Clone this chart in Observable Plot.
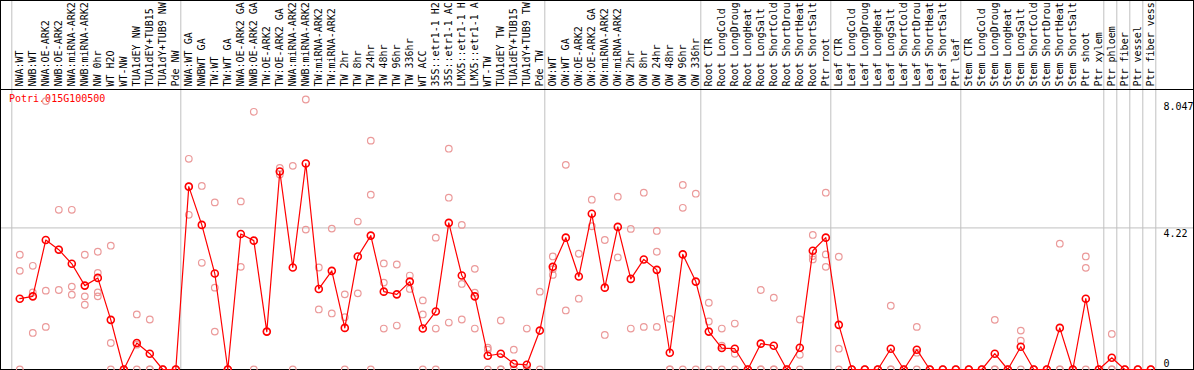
<!DOCTYPE html>
<html><head><meta charset="utf-8">
<script src="https://cdn.jsdelivr.net/npm/d3@7"></script>
<script src="https://cdn.jsdelivr.net/npm/@observablehq/plot@0.6"></script>
<style>html,body{margin:0;padding:0;background:#fff;overflow:hidden}</style>
</head><body><div id="chart"></div>
<script>
const gene = "Potri.015G100500";

// sample labels as they appear (long names are cut at the top of the chart)
const samples = [
  "NWA:WT","NWB:WT","NWA:OE-ARK2","NWB:OE-ARK2","NWA:miRNA-ARK2","NWB:miRNA-ARK2","NW 0hr","WT H2O","WT-NW","TUA1dEY NW","TUA1dEY+TUB15","TUA1dY+TUB9 NW","Pde NW",
  "NWA:WT GA","NWBWT GA","TW:WT","TW:WT GA","NWA:OE-ARK2 GA","NWB:OE-ARK2 GA","TW:OE-ARK2","TW:OE-ARK2 GA","NWA:miRNA-ARK2","NWB:miRNA-ARK2","TW:miRNA-ARK2","TW:miRNA-ARK2",
  "TW 2hr","TW 8hr","TW 24hr","TW 48hr","TW 96hr","TW 336hr","WT ACC","35S::etr1-1 H2","35S::etr1-1 AC","LMX5::etr1-1 H","LMX5::etr1-1 A","WT-TW","TUA1dEY TW","TUA1dEY+TUB15","TUA1dY+TUB9 TW","Pde TW",
  "OW:WT","OW:WT GA","OW:OE-ARK2","OW:OE-ARK2 GA","OW:miRNA-ARK2","OW:miRNA-ARK2","OW 2hr","OW 8hr","OW 24hr","OW 48hr","OW 96hr","OW 336hr",
  "Root CTR","Root LongCold","Root LongDroug","Root LongHeat","Root LongSalt","Root ShortCold","Root ShortDrou","Root ShortHeat","Root ShortSalt","Ptr root",
  "Leaf CTR","Leaf LongCold","Leaf LongDroug","Leaf LongHeat","Leaf LongSalt","Leaf ShortCold","Leaf ShortDrou","Leaf ShortHeat","Leaf ShortSalt","Ptr leaf",
  "Stem CTR","Stem LongCold","Stem LongDroug","Stem LongHeat","Stem LongSalt","Stem ShortCold","Stem ShortDrou","Stem ShortHeat","Stem ShortSalt","Ptr shoot","Ptr xylem",
  "Ptr phloem","Ptr fiber","Ptr vessel","Ptr fiber vess"
];

const means = [
  2.11,2.18,3.86,3.57,3.15,2.50,2.73,1.48,0,0.79,0.47,0,0,
  5.45,4.31,2.86,0,4.04,3.84,1.13,5.90,3.04,6.14,2.40,2.94,
  1.24,3.37,3.99,2.32,2.24,2.62,1.22,1.73,4.37,2.80,2.18,0.41,0.47,0.17,0.14,1.16,
  3.06,3.93,2.77,4.64,2.44,4.25,2.70,3.28,2.97,0.50,3.43,2.62,
  1.13,0.64,0.62,0,0.77,0.71,0,0.65,3.54,3.93,
  1.33,0,0,0,0.62,0,0.59,0,0,0,
  0,0,0.47,0,0.68,0,0,1.24,0,2.11,0,
  0.35,0,0,0
];

const replicates = [
  [3.42,2.94,0],[3.09,2.30,1.09],[8.00,2.35,1.27],[4.76,3.58,2.37],[4.76,2.47,2.23],[3.42,2.18,1.93],[3.51,2.88,2.30,2.18],[3.69,0.79,0],[0,0,0],[1.64,0.74,0],[1.49,0,0],[0,0,0],[0,0,0],
  [6.28,5.46,4.61],[5.47,3.18],[4.98,2.44,1.13],[0,0,0],[5.01,3.06],[7.68,0],[1.13],[6.01,5.81],[6.07,0],[8.047,4.17],[3.04,1.79],[4.20,1.67],
  [2.24,1.56,0],[4.41,2.27],[6.82,5.21,0],[3.16,2.59,1.22],[3.13,1.31],[2.80,2.40],[2.06,1.64,0],[3.93,1.22,0],[6.58,5.12,1.40],[4.31,2.55,1.49],[3.00,2.29,1.22],[0.65,0.59,0],[1.46,0,0],[0.59,0,0],[1.22,0,0],[2.32,0],
  [3.37,2.99,2.82],[6.10,1.76],[3.45,2.11],[5.06,4.27],[3.86,1.03],[5.15,3.34],[4.19,1.22],[5.27,1.27],[4.13,3.51,1.27],[1.51,0,0],[5.50,4.82,0],[5.24,0],
  [1.99,1.43,0],[1.22,0.71,0],[1.37,0.47,0],[0,0,0],[2.37,0,0],[2.14,0,0],[0,0,0],[1.49,0.44,0],[4.01,3.38,3.28],[5.27,3.43,3.06],
  [3.36,0.62,0],[0,0,0],[0,0,0],[0,0,0],[1.90,0,0],[0,0,0],[1.27,0.50,0],[0,0,0],[0,0,0],[0,0,0],
  [0,0,0],[0,0,0],[1.48,0,0],[0,0,0],[1.16,0.86,0],[0,0,0],[0,0,0],[3.75,0,0],[0,0,0],[3.37,3.03,0],[0,0,0],
  [1.06,0,0],[0,0,0],[0,0,0],[0,0,0]
];

// index of the last sample in each group (0 = before the first)
const groupEnds = [0, 13, 41, 53, 63, 73, 84, 85, 86, 87, 88];
const yMax = 8.047;
const yMid = 4.22;

const idx = d3.range(1, samples.length + 1);
const meanRows = means.map((v, k) => ({i: k + 1, v}));
const repRows = replicates.flatMap((vals, k) => vals.map(v => ({i: k + 1, v})));

const font = "'DejaVu Sans Mono', monospace";
const grey = "#c0c0c0";

const chart = Plot.plot({
  width: 1194, height: 370,
  marginTop: 0, marginBottom: 1, marginLeft: 0, marginRight: 0,
  x: {type: "linear", domain: [1, samples.length], range: [19.3, 1150.3], axis: null},
  y: {domain: [0, yMax], range: [369, 99], axis: null},
  style: {fontFamily: font, fontSize: "10px", background: "white", overflow: "hidden"},
  marks: [
    Plot.ruleY([yMid], {stroke: grey, strokeWidth: 1}),
    Plot.ruleX(groupEnds, {x: d => d, dx: 5, stroke: grey, strokeWidth: 1}),
    Plot.ruleY([yMax], {dy: -10, stroke: "black", strokeWidth: 1}),
    Plot.ruleY([0], {stroke: "black", strokeWidth: 1}),
    Plot.frame({stroke: "black", strokeWidth: 1, insetRight: 1}),
    Plot.text(idx, {x: d => d, frameAnchor: "top", dy: 86, text: d => samples[d - 1],
      rotate: -90, textAnchor: "start", lineAnchor: "middle", fill: "black"}),
    Plot.text([gene], {frameAnchor: "top-left", dx: 8.5, dy: 101, text: d => d,
      fill: "red", textAnchor: "start", lineAnchor: "bottom"}),
    Plot.text([yMax], {y: d => d, frameAnchor: "right", dx: -31, text: d => String(d),
      textAnchor: "start", lineAnchor: "top", dy: 3, fill: "black"}),
    Plot.text([yMid], {y: d => d, frameAnchor: "right", dx: -31, text: d => String(d),
      textAnchor: "start", lineAnchor: "top", dy: 1.5, fill: "black"}),
    Plot.text([0], {y: d => d, frameAnchor: "right", dx: -31, text: d => String(d),
      textAnchor: "start", lineAnchor: "bottom", dy: -3, fill: "black"}),
    Plot.dot(repRows, {x: "i", y: "v", r: 3.3, stroke: "#eb9a9a", strokeWidth: 1.2, fill: "none"}),
    Plot.line(meanRows, {x: "i", y: "v", stroke: "red", strokeWidth: 1.2}),
    Plot.dot(meanRows, {x: "i", y: "v", r: 3.5, stroke: "red", strokeWidth: 1.6, fill: "none"})
  ]
});
document.getElementById("chart").appendChild(chart);
</script>
</body></html>
